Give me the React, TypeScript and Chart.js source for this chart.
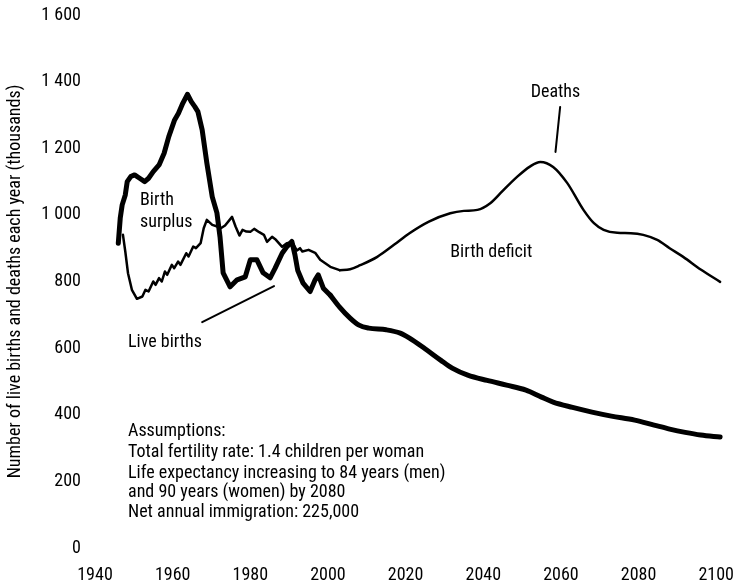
import React, { useEffect, useRef } from "react";
import { Chart, registerables } from "chart.js";

Chart.register(...registerables);

const FONT_FAMILY = "'Roboto Condensed', 'DejaVu Sans Condensed', sans-serif";

// ---- tick labels ----
const xTickYears = [1940, 1960, 1980, 2000, 2020, 2040, 2060, 2080, 2100];
const yTickValues = [0, 200, 400, 600, 800, 1000, 1200, 1400, 1600];
const yAxisTitle = "Number of live births and deaths each year (thousands)";

// ---- live births (thousands) ----
const birthsHistYears = [
  1946, 1946.5, 1947, 1947.8, 1948.3, 1949.2, 1950.2, 1951.5, 1952.8, 1953.8,
  1955, 1956.5, 1957.8, 1959, 1960.5, 1961.5, 1962.6, 1963.8, 1964.8, 1965.7,
  1966.5, 1967.6, 1968.8, 1970.2, 1971.4, 1972.2, 1973, 1974.8, 1976.6, 1978.7,
  1980, 1981.7, 1983.3, 1985.1, 1986.4, 1988.2, 1989.4, 1990.7, 1991.5, 1992.2,
  1993.6, 1995.4, 1996.7, 1997.5, 1998.8, 2000.6,
];
const birthsHistValues = [
  915, 990, 1030, 1060, 1100, 1115, 1120, 1110, 1100, 1110,
  1130, 1150, 1185, 1235, 1285, 1305, 1335, 1362, 1340, 1325,
  1310, 1255, 1156, 1054, 1006, 934, 826, 784, 805, 814,
  865, 865, 826, 811, 840, 885, 904, 920, 880, 834,
  795, 770, 805, 820, 780, 759,
];
const birthsProjYears = [
  2000.6, 2003, 2005.7, 2008, 2010.5, 2015, 2018.6, 2021, 2025, 2029,
  2032, 2036, 2041, 2046, 2051, 2055, 2058, 2063, 2068, 2073,
  2079, 2084, 2088, 2092, 2096, 2101,
];
const birthsProjValues = [
  759, 723, 690, 669, 660, 655, 645, 630, 598, 564,
  540, 519, 503, 489, 474, 453, 438, 422, 408, 396,
  384, 369, 357, 347, 339, 333,
];

// ---- deaths (thousands) ----
const deathsHistYears = [
  1947.2, 1947.8, 1948.5, 1949.5, 1950.8, 1952.2, 1953, 1953.8, 1955, 1955.6,
  1956.5, 1957.2, 1958, 1958.6, 1959.8, 1960.4, 1961.4, 1962, 1963.5, 1964.1,
  1965.3, 1966, 1967.2, 1968, 1968.8, 1970.2, 1971.5, 1972.4, 1973.5, 1975.3,
  1976.2, 1977.2, 1978, 1979, 1980, 1981, 1982.3, 1983.5, 1984.3, 1985.6,
  1986.6, 1988.2, 1989.4, 1990.8, 1992, 1992.8, 1993.4, 1995, 1996.7, 1998,
  2000.6, 2003,
];
const deathsHistValues = [
  940, 890, 825, 775, 748, 755, 775, 770, 800, 790,
  810, 800, 830, 820, 850, 840, 860, 850, 885, 875,
  905, 900, 915, 960, 985, 970, 965, 960, 968, 994,
  965, 938, 955, 950, 949, 958, 948, 940, 919, 934,
  925, 904, 915, 918, 893, 900, 890, 895, 886, 865,
  844, 834,
];
const deathsProjYears = [
  2003, 2005.7, 2008.3, 2012.7, 2017, 2021, 2026, 2031.5, 2035, 2038.5,
  2041.8, 2045, 2048.7, 2052, 2054.7, 2058, 2061.6, 2065.8, 2068.5, 2071,
  2074.5, 2078, 2081.2, 2084.8, 2088, 2091.5, 2096, 2101,
];
const deathsProjValues = [
  834, 837, 849, 874, 910, 945, 980, 1005, 1012, 1015,
  1035, 1072, 1114, 1145, 1159, 1144, 1096, 1015, 975, 955,
  946, 945, 940, 925, 900, 874, 836, 799,
];

// ---- annotations (data coordinates: year, thousands) ----
const labelTexts = ["Birth", "surplus", "Live births", "Birth deficit", "Deaths"];
const labelYears = [1951.6, 1951.6, 1948.5, 2031.5, 2058.6];
const labelValues = [1044, 978, 618, 888, 1366];
const labelAligns: CanvasTextAlign[] = ["left", "left", "left", "left", "center"];

const noteLines = [
  "Assumptions:",
  "Total fertility rate: 1.4 children per woman",
  "Life expectancy increasing to 84 years (men)",
  "and 90 years (women) by 2080",
  "Net annual immigration: 225,000",
];
const noteYear = 1948.5;
const noteValues = [351, 288, 225, 167, 108];

const leaderFromYears = [1967.6, 2059.8];
const leaderFromValues = [678, 1324];
const leaderToYears = [1986.1, 2058.6];
const leaderToValues = [786, 1189];

const toPoints = (xs: number[], ys: number[]) => xs.map((x, i) => ({ x, y: ys[i] }));

const formatThousands = (v: number) =>
  v >= 1000 ? `${Math.floor(v / 1000)} ${String(v % 1000).padStart(3, "0")}` : String(v);

const annotationPlugin = {
  id: "annotations",
  afterDatasetsDraw(chart: any) {
    const { ctx, scales } = chart;
    const xs = scales.x;
    const ys = scales.y;
    ctx.save();
    ctx.fillStyle = "#000";
    ctx.strokeStyle = "#000";
    ctx.font = `18px ${FONT_FAMILY}`;
    ctx.textBaseline = "middle";
    labelTexts.forEach((t, i) => {
      ctx.textAlign = labelAligns[i];
      ctx.fillText(t, xs.getPixelForValue(labelYears[i]), ys.getPixelForValue(labelValues[i]));
    });
    ctx.textAlign = "left";
    noteLines.forEach((t, i) => {
      ctx.fillText(t, xs.getPixelForValue(noteYear), ys.getPixelForValue(noteValues[i]));
    });
    ctx.lineWidth = 2;
    ctx.lineCap = "round";
    leaderFromYears.forEach((_, i) => {
      ctx.beginPath();
      ctx.moveTo(xs.getPixelForValue(leaderFromYears[i]), ys.getPixelForValue(leaderFromValues[i]));
      ctx.lineTo(xs.getPixelForValue(leaderToYears[i]), ys.getPixelForValue(leaderToValues[i]));
      ctx.stroke();
    });
    ctx.restore();
  },
};

export default function App() {
  const canvasRef = useRef<HTMLCanvasElement | null>(null);

  useEffect(() => {
    if (!canvasRef.current) return;
    Chart.defaults.color = "#000";
    const common = {
      borderColor: "#000",
      pointRadius: 0,
      fill: false,
      borderJoinStyle: "round" as const,
      borderCapStyle: "round" as const,
    };
    const chart = new Chart(canvasRef.current, {
      type: "line",
      data: {
        datasets: [
          { ...common, label: "Live births", data: toPoints(birthsHistYears, birthsHistValues), borderWidth: 5, tension: 0 },
          { ...common, label: "Live births (projection)", data: toPoints(birthsProjYears, birthsProjValues), borderWidth: 5, cubicInterpolationMode: "monotone" },
          { ...common, label: "Deaths", data: toPoints(deathsHistYears, deathsHistValues), borderWidth: 2.5, tension: 0 },
          { ...common, label: "Deaths (projection)", data: toPoints(deathsProjYears, deathsProjValues), borderWidth: 2.5, cubicInterpolationMode: "monotone" },
        ],
      },
      options: {
        animation: false,
        responsive: false,
        layout: { padding: { top: 15, right: 14, bottom: 0, left: 0 } },
        plugins: { legend: { display: false }, tooltip: { enabled: false } },
        scales: {
          x: {
            type: "linear",
            min: 1940,
            max: 2102,
            grid: { display: false, drawTicks: false },
            border: { display: false },
            afterBuildTicks: (s: any) => {
              s.ticks = xTickYears.map((v) => ({ value: v }));
            },
            afterFit: (s: any) => {
              s.height = 39;
              s.paddingLeft = 0;
              s.paddingRight = 0;
            },
            ticks: {
              padding: 17,
              maxRotation: 0,
              autoSkip: false,
              color: "#000",
              font: { family: FONT_FAMILY, size: 18 },
              callback: (v: any) => String(v),
            },
          },
          y: {
            type: "linear",
            min: 0,
            max: 1600,
            grid: { display: false, drawTicks: false },
            border: { display: false },
            afterBuildTicks: (s: any) => {
              s.ticks = yTickValues.map((v) => ({ value: v }));
            },
            afterFit: (s: any) => {
              s.width = 95;
              s.paddingTop = 0;
              s.paddingBottom = 0;
            },
            title: {
              display: true,
              text: yAxisTitle,
              color: "#000",
              font: { family: FONT_FAMILY, size: 18 },
              padding: { top: 5, bottom: 0 },
            },
            ticks: {
              padding: 14,
              autoSkip: false,
              color: "#000",
              font: { family: FONT_FAMILY, size: 18 },
              callback: (v: any) => formatThousands(Number(v)),
            },
          },
        },
      },
      plugins: [annotationPlugin],
    });
    return () => chart.destroy();
  }, []);

  return (
    <div style={{ position: "fixed", left: 0, top: 0, width: 738, height: 587, background: "#fff" }}>
      <canvas ref={canvasRef} width={738} height={587} />
    </div>
  );
}
